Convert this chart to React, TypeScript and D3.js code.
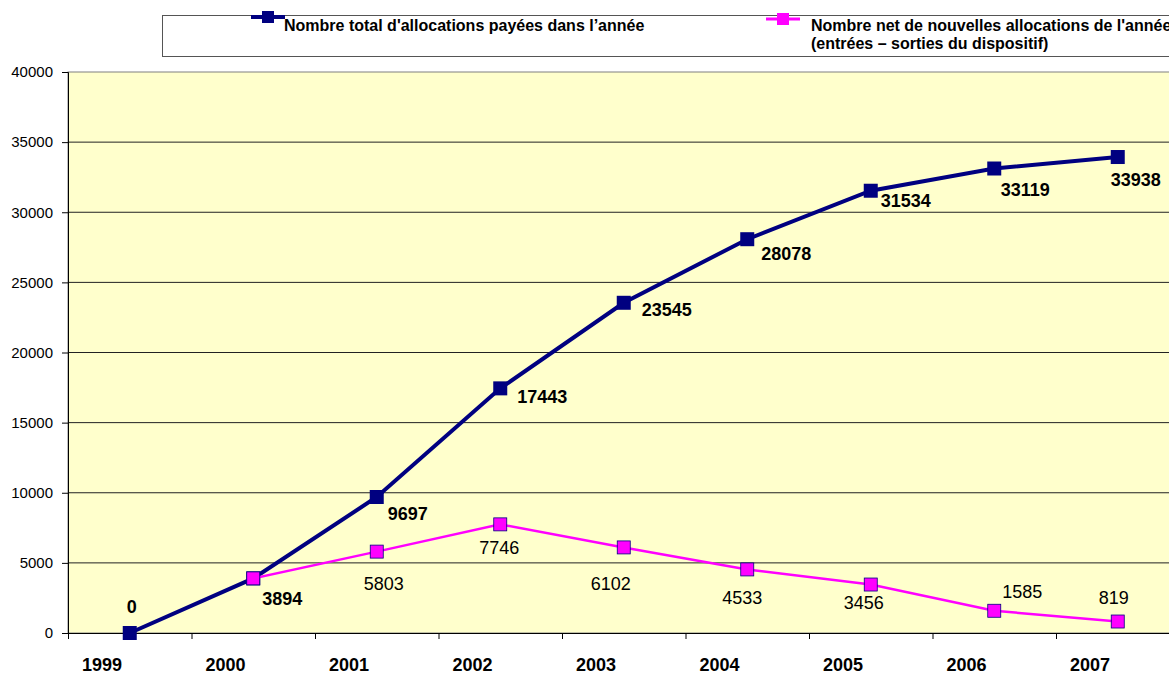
import React, { useEffect, useRef } from 'react';
import * as d3 from 'd3';

// data
const years = ['1999', '2000', '2001', '2002', '2003', '2004', '2005', '2006', '2007'];
const totalValues = [0, 3894, 9697, 17443, 23545, 28078, 31534, 33119, 33938];
const netYears = ['2000', '2001', '2002', '2003', '2004', '2005', '2006', '2007'];
const netValues = [3894, 5803, 7746, 6102, 4533, 3456, 1585, 819];
const yTicks = [0, 5000, 10000, 15000, 20000, 25000, 30000, 35000, 40000];

// manual label placement (offsets from the point, as in the original)
const totalLabelOffsets = [[2, -26], [29, 20], [31, 17], [42, 8], [43, 7], [39, 14], [35, 10], [31, 21], [18, 23]];
const netLabelOffsets = [null, [7, 32], [-1, 23], [-13, 36], [-5, 28], [-7, 18], [28, -19], [-4, -24]];

const W = 1169;
const H = 674;
const FONT = '"Liberation Sans", Arial, sans-serif';

function App() {
  const ref = useRef<SVGSVGElement>(null);

  useEffect(() => {
    const svg = d3.select(ref.current);
    svg.selectAll('*').remove();

    const left = 68, top = 72, bottom = 633;
    const band = 123.5;
    const right = left + band * years.length;

    const x = d3.scaleBand().domain(years).range([left, right]);
    const y = d3.scaleLinear().domain([0, 40000]).range([bottom, top]);
    const cx = (d: string) => (x(d) as number) + x.bandwidth() / 2;

    // plot area
    svg.append('rect')
      .attr('x', left).attr('y', top)
      .attr('width', right - left).attr('height', bottom - top)
      .attr('fill', '#FFFFCC').attr('stroke', '#808080');

    // gridlines
    svg.append('g').selectAll('line')
      .data(yTicks.filter(t => t > 0 && t < 40000))
      .enter().append('line')
      .attr('x1', left).attr('x2', right)
      .attr('y1', d => y(d)).attr('y2', d => y(d))
      .attr('stroke', '#222').attr('stroke-width', 1);

    // y axis
    const yAxis = d3.axisLeft(y).tickValues(yTicks).tickSize(6).tickPadding(9)
      .tickFormat(d => String(d));
    const yg = svg.append('g').attr('transform', `translate(${left},0)`).call(yAxis);
    yg.select('.domain').attr('stroke', '#000');
    yg.selectAll('line').attr('stroke', '#000');
    yg.selectAll('text').attr('font-family', FONT)
      .attr('font-size', 15).attr('fill', '#000');

    // x axis
    const xAxis = d3.axisBottom(d3.scaleLinear().domain([0, years.length]).range([left, right]))
      .tickValues(d3.range(0, years.length + 1)).tickSize(6).tickFormat(() => '');
    const xg = svg.append('g').attr('transform', `translate(0,${bottom})`).call(xAxis);
    xg.select('.domain').attr('stroke', '#000');
    xg.selectAll('line').attr('stroke', '#000');

    svg.append('g').selectAll('text')
      .data(years).enter().append('text')
      .attr('x', d => (x(d) as number) + 34)
      .attr('y', 671)
      .attr('text-anchor', 'middle')
      .attr('font-family', FONT)
      .attr('font-size', 18).attr('font-weight', 'bold')
      .text(d => d);

    // total series
    const line = d3.line<[string, number]>().x(d => cx(d[0])).y(d => y(d[1]));
    const totalData = years.map((d, i) => [d, totalValues[i]] as [string, number]);
    const netData = netYears.map((d, i) => [d, netValues[i]] as [string, number]);

    svg.append('path').datum(totalData)
      .attr('d', line).attr('fill', 'none')
      .attr('stroke', '#000080').attr('stroke-width', 4);
    svg.append('g').selectAll('rect')
      .data(totalData).enter().append('rect')
      .attr('x', d => cx(d[0]) - 7).attr('y', d => y(d[1]) - 7)
      .attr('width', 14).attr('height', 14)
      .attr('fill', '#000080');

    // net series
    svg.append('path').datum(netData)
      .attr('d', line).attr('fill', 'none')
      .attr('stroke', '#FF00FF').attr('stroke-width', 2.5);
    svg.append('g').selectAll('rect')
      .data(netData).enter().append('rect')
      .attr('x', d => cx(d[0]) - 6.5).attr('y', d => y(d[1]) - 6.5)
      .attr('width', 13).attr('height', 13)
      .attr('fill', '#FF00FF').attr('stroke', '#000080').attr('stroke-width', 0.8);

    // data labels
    svg.append('g').selectAll('text')
      .data(totalData).enter().append('text')
      .attr('x', (d, i) => cx(d[0]) + totalLabelOffsets[i][0])
      .attr('y', (d, i) => y(d[1]) + totalLabelOffsets[i][1])
      .attr('dy', '0.35em')
      .attr('text-anchor', 'middle')
      .attr('font-family', FONT)
      .attr('font-size', 18).attr('font-weight', 'bold')
      .text(d => String(d[1]));

    svg.append('g').selectAll('text')
      .data(netData.filter((_, i) => netLabelOffsets[i]))
      .enter().append('text')
      .attr('x', d => cx(d[0]) + (netLabelOffsets[netYears.indexOf(d[0])] as number[])[0])
      .attr('y', d => y(d[1]) + (netLabelOffsets[netYears.indexOf(d[0])] as number[])[1])
      .attr('dy', '0.35em')
      .attr('text-anchor', 'middle')
      .attr('font-family', FONT)
      .attr('font-size', 18)
      .text(d => String(d[1]));

    // legend
    const lg = svg.append('g');
    lg.append('rect')
      .attr('x', 162.5).attr('y', 15.5).attr('width', 1020).attr('height', 41)
      .attr('fill', '#fff').attr('stroke', '#555');
    lg.append('line').attr('x1', 251).attr('x2', 285).attr('y1', 17).attr('y2', 17)
      .attr('stroke', '#000080').attr('stroke-width', 4);
    lg.append('rect').attr('x', 262).attr('y', 11).attr('width', 12).attr('height', 12)
      .attr('fill', '#000080');
    lg.append('text').attr('x', 284).attr('y', 31)
      .attr('font-family', FONT)
      .attr('font-size', 16).attr('font-weight', 'bold')
      .text("Nombre total d'allocations payées dans l’année");

    lg.append('line').attr('x1', 766).attr('x2', 800).attr('y1', 19).attr('y2', 19)
      .attr('stroke', '#FF00FF').attr('stroke-width', 3);
    lg.append('rect').attr('x', 777).attr('y', 13).attr('width', 12).attr('height', 12)
      .attr('fill', '#FF00FF');
    lg.append('text').attr('x', 811).attr('y', 31)
      .attr('font-family', FONT)
      .attr('font-size', 16).attr('font-weight', 'bold')
      .text("Nombre net de nouvelles allocations de l'année");
    lg.append('text').attr('x', 811).attr('y', 49)
      .attr('font-family', FONT)
      .attr('font-size', 16).attr('font-weight', 'bold')
      .text('(entrées – sorties du dispositif)');
  }, []);

  return (
    <svg ref={ref} width={W} height={H}
      style={{ position: 'absolute', left: 0, top: 0, background: '#fff' }} />
  );
}

export default App;
